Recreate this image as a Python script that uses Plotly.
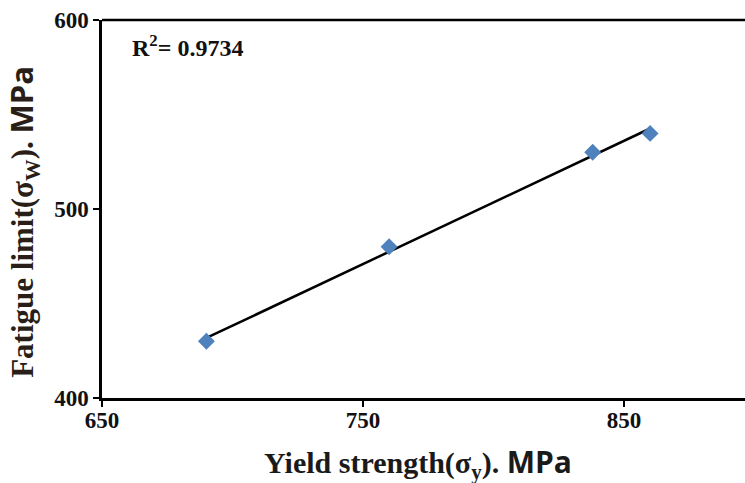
import numpy as np
import plotly.graph_objects as go

yield_strength = [690, 760, 838, 860]
fatigue_limit = [430, 480, 530, 540]
x_ticks = [650, 750, 850]
y_ticks = [400, 500, 600]
r2_label = "<b>R<sup>2</sup>= 0.9734</b>"

xs = np.array(yield_strength, dtype=float)
ys = np.array(fatigue_limit, dtype=float)
slope, intercept = np.polyfit(xs, ys, 1)
line_x = [xs.min(), xs.max()]
line_y = [slope * v + intercept for v in line_x]

serif = "Liberation Serif"
W = 745
plot_w = W - 102

fig = go.Figure()
fig.add_trace(go.Scatter(x=line_x, y=line_y, mode="lines",
                         line=dict(color="black", width=2.5), showlegend=False, hoverinfo="skip"))
fig.add_trace(go.Scatter(x=yield_strength, y=fatigue_limit, mode="markers",
                         marker=dict(symbol="diamond", size=13, color="#4f81bd",
                                     line=dict(width=0)), showlegend=False))

tickfont = dict(family=serif, size=23, color="#111", weight="bold")

fig.update_layout(
    width=W, height=483,
    margin=dict(l=102, r=0, t=20, b=85),
    plot_bgcolor="white", paper_bgcolor="white",
    xaxis=dict(range=[650, 650 + plot_w / 2.61], tickvals=x_ticks,
               ticktext=[f"<b>{v}</b>" for v in x_ticks],
               showgrid=False, zeroline=False,
               showline=True, linecolor="black", linewidth=2.5,
               ticks="outside", ticklen=6, tickwidth=2, tickcolor="black",
               ticklabelstandoff=-6, tickfont=tickfont),
    yaxis=dict(range=[400, 600], tickvals=y_ticks,
               ticktext=[f"<b>{v}</b>" for v in y_ticks],
               showgrid=False, zeroline=False,
               showline=True, linecolor="black", linewidth=2.5,
               ticks="outside", ticklen=6, tickwidth=2, tickcolor="black",
               tickfont=tickfont),
    shapes=[dict(type="line", xref="paper", yref="paper", x0=0, x1=1, y0=1, y1=1,
                 line=dict(color="black", width=2.5))],
    annotations=[
        dict(text=r2_label, xref="paper", yref="paper", x=28 / plot_w, y=0.93,
             xanchor="left", yanchor="middle", showarrow=False,
             font=dict(family=serif, size=24, color="#111")),
        dict(text="<b>Yield strength(σ<sub>y</sub>). </b><span style='font-family:Open Sans'><b>MPa</b></span>",
             xref="paper", yref="paper", x=(418 - 102) / plot_w, y=-0.17,
             xanchor="center", yanchor="middle", showarrow=False,
             font=dict(family=serif, size=30, color="#1a1a1a")),
        dict(text="<b>Fatigue limit(σ<sub>W</sub>). </b><span style='font-family:Open Sans'><b>MPa</b></span>",
             xref="paper", yref="paper", x=(23 - 102) / plot_w, y=0.466, textangle=-90,
             xanchor="center", yanchor="middle", showarrow=False,
             font=dict(family=serif, size=31, color="#2a1f18")),
    ],
)

fig.write_html("out.html")
